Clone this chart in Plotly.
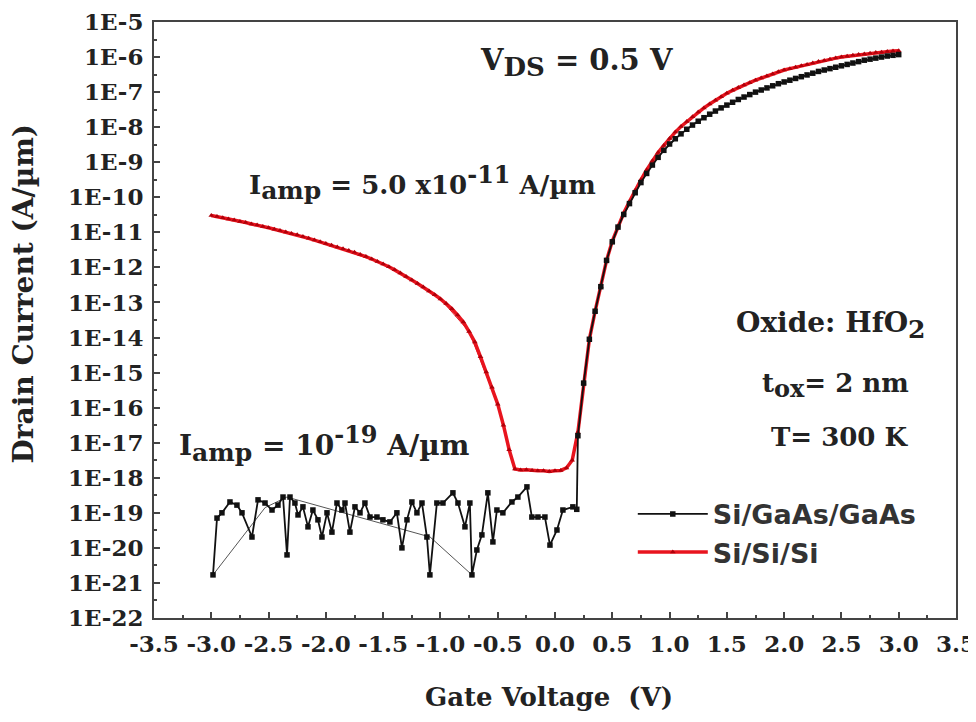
import numpy as np
import plotly.graph_objects as go

# ---------------- data ----------------
# Si/Si/Si : gate voltage (V) and log10 of drain current (A/um)
si_vg = [-3.00, -2.95, -2.90, -2.85, -2.80, -2.75, -2.70, -2.65, -2.60, -2.55,
         -2.50, -2.45, -2.40, -2.35, -2.30, -2.25, -2.20, -2.15, -2.10, -2.05,
         -2.00, -1.95, -1.90, -1.85, -1.80, -1.75, -1.70, -1.65, -1.60, -1.55,
         -1.50, -1.45, -1.40, -1.35, -1.30, -1.25, -1.20, -1.15, -1.10, -1.05,
         -1.00, -0.95, -0.90, -0.85, -0.80, -0.75, -0.70, -0.65, -0.60, -0.55,
         -0.50, -0.45, -0.40, -0.35, -0.30, -0.25, -0.20, -0.15, -0.10, -0.05,
         0.00, 0.05, 0.10, 0.15, 0.20, 0.25, 0.30, 0.35, 0.40, 0.45,
         0.50, 0.55, 0.60, 0.65, 0.70, 0.75, 0.80, 0.85, 0.90, 0.95,
         1.00, 1.05, 1.10, 1.15, 1.20, 1.25, 1.30, 1.35, 1.40, 1.45,
         1.50, 1.55, 1.60, 1.65, 1.70, 1.75, 1.80, 1.85, 1.90, 1.95,
         2.00, 2.05, 2.10, 2.15, 2.20, 2.25, 2.30, 2.35, 2.40, 2.45,
         2.50, 2.55, 2.60, 2.65, 2.70, 2.75, 2.80, 2.85, 2.90, 2.95, 3.00]
si_log_id = [-10.52, -10.55, -10.58, -10.62, -10.65, -10.69, -10.72, -10.76, -10.79, -10.83,
             -10.87, -10.91, -10.95, -10.99, -11.03, -11.07, -11.12, -11.17, -11.22, -11.27,
             -11.32, -11.37, -11.42, -11.47, -11.52, -11.57, -11.63, -11.69, -11.76, -11.83,
             -11.90, -11.98, -12.07, -12.16, -12.26, -12.36, -12.46, -12.56, -12.67, -12.78,
             -12.90, -13.03, -13.18, -13.36, -13.56, -13.83, -14.13, -14.55, -14.98, -15.42,
             -15.90, -16.50, -17.20, -17.75, -17.78, -17.77, -17.79, -17.80, -17.80, -17.82,
             -17.80, -17.79, -17.72, -17.50, -16.70, -15.30, -14.05, -13.25, -12.55, -11.80,
             -11.25, -10.82, -10.45, -10.12, -9.80, -9.50, -9.22, -8.96, -8.72, -8.52,
             -8.32, -8.14, -7.98, -7.84, -7.70, -7.57, -7.45, -7.34, -7.23, -7.13,
             -7.03, -6.95, -6.87, -6.80, -6.73, -6.66, -6.60, -6.54, -6.48, -6.42,
             -6.37, -6.33, -6.29, -6.25, -6.21, -6.17, -6.13, -6.10, -6.06, -6.03,
             -6.00, -5.98, -5.95, -5.93, -5.91, -5.89, -5.87, -5.86, -5.84, -5.83, -5.82]
# coarse sweep of Si/Si/Si (thin line)
si_coarse_vg = [-3.00, -2.50, -2.00, -1.50, -1.25, -1.00, -0.75, -0.50, -0.40]
si_coarse_log_id = [-10.52, -10.87, -11.32, -11.90, -12.36, -12.90, -13.83, -15.90, -17.20]

# Si/GaAs/GaAs
gaas_vg = [-2.985, -2.950, -2.907, -2.837, -2.776, -2.732, -2.645, -2.592, -2.531, -2.470,
           -2.418, -2.374, -2.339, -2.313, -2.270, -2.243, -2.200, -2.156, -2.113, -2.069,
           -2.034, -1.990, -1.947, -1.903, -1.860, -1.833, -1.790, -1.746, -1.702, -1.659,
           -1.615, -1.554, -1.502, -1.441, -1.380, -1.336, -1.292, -1.249, -1.205, -1.161,
           -1.118, -1.092, -1.031, -0.978, -0.891, -0.847, -0.786, -0.743, -0.725, -0.682,
           -0.638, -0.586, -0.542, -0.507, -0.455, -0.376, -0.324, -0.245, -0.202, -0.149,
           -0.088, -0.044, 0.017, 0.069, 0.156, 0.19,
           0.20, 0.25, 0.30, 0.35, 0.40, 0.45, 0.50, 0.55, 0.60, 0.65,
           0.70, 0.75, 0.80, 0.85, 0.90, 0.95, 1.00, 1.05, 1.10, 1.15,
           1.20, 1.25, 1.30, 1.35, 1.40, 1.45, 1.50, 1.55, 1.60, 1.65,
           1.70, 1.75, 1.80, 1.85, 1.90, 1.95, 2.00, 2.05, 2.10, 2.15,
           2.20, 2.25, 2.30, 2.35, 2.40, 2.45, 2.50, 2.55, 2.60, 2.65,
           2.70, 2.75, 2.80, 2.85, 2.90, 2.95, 3.00]
gaas_log_id = [-20.77, -19.15, -19.00, -18.69, -18.78, -19.00, -19.69, -18.63, -18.72, -18.92,
               -18.78, -18.55, -20.20, -18.55, -18.72, -19.06, -18.83, -19.40, -18.92, -19.20,
               -19.69, -19.00, -19.55, -18.72, -18.92, -18.72, -19.55, -18.83, -19.00, -18.72,
               -19.12, -19.12, -19.20, -19.26, -19.00, -20.00, -19.20, -18.69, -19.00, -18.72,
               -19.69, -20.77, -18.72, -18.72, -18.43, -18.72, -19.40, -18.72, -20.77, -20.06,
               -19.63, -18.43, -19.83, -18.92, -19.00, -18.69, -18.55, -18.26, -19.12, -19.12,
               -19.12, -19.92, -19.49, -18.92, -18.83, -18.90,
               -16.80, -15.30, -14.05, -13.25, -12.55, -11.80, -11.27, -10.85, -10.49, -10.18,
               -9.87, -9.58, -9.32, -9.08, -8.86, -8.66, -8.48, -8.33, -8.19, -8.06,
               -7.94, -7.83, -7.73, -7.63, -7.54, -7.45, -7.37, -7.29, -7.21, -7.14,
               -7.07, -7.00, -6.94, -6.88, -6.82, -6.76, -6.71, -6.66, -6.61, -6.56,
               -6.51, -6.46, -6.41, -6.37, -6.33, -6.29, -6.25, -6.21, -6.17, -6.13,
               -6.09, -6.06, -6.03, -6.00, -5.97, -5.95, -5.93]
# coarse sweep of Si/GaAs/GaAs (thin line)
gaas_coarse_vg = [-2.985, -2.53, -2.34, -1.09, -0.725]
gaas_coarse_log_id = [-20.77, -18.85, -18.55, -19.69, -20.77]

y_tick_exponents = [-5, -6, -7, -8, -9, -10, -11, -12, -13, -14, -15, -16, -17, -18,
                    -19, -20, -21, -22]
y_tick_labels = ["1E-5", "1E-6", "1E-7", "1E-8", "1E-9", "1E-10", "1E-11", "1E-12",
                 "1E-13", "1E-14", "1E-15", "1E-16", "1E-17", "1E-18", "1E-19",
                 "1E-20", "1E-21", "1E-22"]
x_tick_vals = [-3.5, -3.0, -2.5, -2.0, -1.5, -1.0, -0.5, 0.0, 0.5, 1.0, 1.5, 2.0, 2.5, 3.0, 3.5]
x_tick_labels = ["-3.5", "-3.0", "-2.5", "-2.0", "-1.5", "-1.0", "-0.5", "0.0", "0.5",
                 "1.0", "1.5", "2.0", "2.5", "3.0", "3.5"]

# ---------------- figure ----------------
RED = "#e8141e"
RED_MK = "#b0000a"
BLK = "#111111"
SERIF = "DejaVu Serif"

fig = go.Figure()
fig.add_trace(go.Scatter(x=si_coarse_vg, y=10.0 ** np.array(si_coarse_log_id), mode="lines",
                         line=dict(color=RED, width=1), showlegend=False, hoverinfo="skip"))
fig.add_trace(go.Scatter(x=si_vg, y=10.0 ** np.array(si_log_id), mode="lines+markers",
                         name="Si/Si/Si", line=dict(color=RED, width=3.5),
                         marker=dict(symbol="triangle-up", size=5, color=RED_MK)))
fig.add_trace(go.Scatter(x=gaas_coarse_vg, y=10.0 ** np.array(gaas_coarse_log_id), mode="lines",
                         line=dict(color="#555555", width=1), showlegend=False, hoverinfo="skip"))
fig.add_trace(go.Scatter(x=gaas_vg, y=10.0 ** np.array(gaas_log_id), mode="lines+markers",
                         name="Si/GaAs/GaAs", line=dict(color=BLK, width=1.8),
                         marker=dict(symbol="square", size=5.5, color=BLK)))

axis_common = dict(showline=True, linecolor="#444444", linewidth=2, mirror=True,
                   showgrid=False, zeroline=False, ticks="inside", tickcolor="#444444",
                   tickwidth=1.5, ticklen=6, automargin=False, ticklabeloverflow="allow",
                   tickfont=dict(family=SERIF, size=23, color="#222222", weight="bold"))

fig.update_xaxes(range=[-3.5, 3.5], tickmode="array", tickvals=x_tick_vals,
                 ticktext=x_tick_labels, ticklabelstandoff=4,
                 minor=dict(ticks="inside", ticklen=3, dtick=0.25, tickcolor="#444444"),
                 **axis_common)
fig.update_yaxes(type="log", range=[-22, -5], tickmode="array",
                 tickvals=[10.0 ** e for e in y_tick_exponents], ticktext=y_tick_labels,
                 ticklabelstandoff=4,
                 minor=dict(ticks="inside", ticklen=3,
                            tickvals=[10.0 ** (e - 0.5) for e in y_tick_exponents[:-1]],
                            tickcolor="#444444"),
                 **axis_common)


def px2paper(px, py):
    # page pixel position -> paper fraction of the plot area (154..956, 22..618)
    return (px - 154) / 802.0, (618 - py) / 596.0


def sm(t, s):
    return '<span style="font-size:%dpx">%s</span>' % (s, t)


def add_text(text, px, py, size=27):
    x, y = px2paper(px, py)
    fig.add_annotation(text=text, x=x, y=y, xref="paper", yref="paper", xanchor="left",
                       yanchor="middle", showarrow=False,
                       font=dict(family=SERIF, size=size, color="#222222", weight="bold"))


add_text("V<sub>" + sm("DS", 26) + "</sub> = 0.5 V", 478, 62, 29)
add_text("I<sub>" + sm("amp", 25) + "</sub> = 5.0 x10<sup>" + sm("-11", 24) + "</sup> A/µm",
         247, 183, 26)
add_text("I<sub>" + sm("amp", 25) + "</sub> = 10<sup>" + sm("-19", 24) + "</sup> A/µm",
         177, 443, 28)
add_text("Oxide: HfO<sub>" + sm("2", 25) + "</sub>", 734, 325, 28)
add_text("t<sub>" + sm("ox", 24) + "</sub>= 2 nm", 760, 385, 26)
add_text("T= 300 K", 769, 437, 26)

# axis titles
fig.add_annotation(text="Drain Current (A/µm)", x=-0.163, y=0.545, xref="paper", yref="paper",
                   textangle=-90, showarrow=False, xanchor="center", yanchor="middle",
                   font=dict(family=SERIF, size=28, color="#222222", weight="bold"))
fig.add_annotation(text="Gate Voltage  (V)", x=0.492, y=-0.133, xref="paper", yref="paper",
                   showarrow=False, xanchor="center", yanchor="middle",
                   font=dict(family=SERIF, size=26, color="#222222", weight="bold"))

# the page body adds an 8 px offset, so the figure is 8 px smaller and margins shifted
fig.update_layout(
    width=968, height=714,
    margin=dict(l=146, r=20, t=14, b=104, autoexpand=False),
    paper_bgcolor="white", plot_bgcolor="white",
    legend=dict(x=0.597, y=0.215, xanchor="left", yanchor="top", traceorder="reversed",
                bgcolor="rgba(0,0,0,0)", itemwidth=70, tracegroupgap=0,
                font=dict(family="DejaVu Sans", size=27, color="#333333", weight="bold")),
)

fig.write_html("out.html")
